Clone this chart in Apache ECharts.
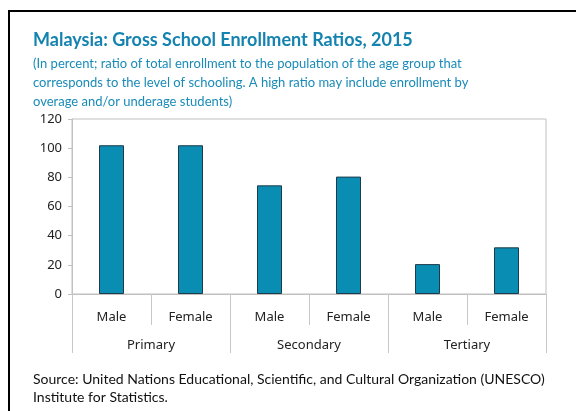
<!DOCTYPE html>
<html><head><meta charset="utf-8">
<script src="https://cdn.jsdelivr.net/npm/echarts@6/dist/echarts.min.js"></script>
<style>html,body{margin:0;padding:0;background:#fff}#c{width:576px;height:411px}</style>
</head><body><div id="c"></div>
<script>
const genders = ['Male','Female','Male','Female','Male','Female'];
const levels = ['Primary','Secondary','Tertiary'];
const values = [102, 102, 74.5, 80.5, 20.5, 32];
const yTicks = {min:0, max:120, interval:20};
const titleText = 'Malaysia: Gross School Enrollment Ratios, 2015';
const subLines = ['(In percent; ratio of total enrollment to the population of the age group that',
 'corresponds to the level of schooling. A high ratio may include enrollment by',
 'overage and/or underage students)'];
const sourceLines = ['Source: United Nations Educational, Scientific, and Cultural Organization (UNESCO)',
 'Institute for Statistics.'];

const FONT = 'Noto Sans';
const TFONT = 'Lato';
const chart = echarts.init(document.getElementById('c'), null, {renderer:'canvas'});
const gfx = [
  {type:'rect', shape:{x:9, y:11, width:600, height:440}, style:{fill:'none', stroke:'#000', lineWidth:2}, silent:true},
  {type:'text', left:33, top:31, style:{text:titleText, font:'bold 18px "'+TFONT+'"', fill:'#1583b0'}}
];
subLines.forEach((t,i)=>gfx.push({type:'text', left:33, top:57+i*19, style:{text:t, font:'13px "'+TFONT+'"', fill:'#1a8bb8'}}));
sourceLines.forEach((t,i)=>gfx.push({type:'text', left:33, top:372+i*18, style:{text:t, font:'14px "'+TFONT+'"', fill:'#111'}}));

chart.setOption({
  animation:false,
  grid:{left:72, top:119, width:474, height:175, show:true, borderColor:'#c0c0c0', borderWidth:1},
  graphic: gfx,
  xAxis:[
    {type:'category', data:genders, position:'bottom', gridIndex:0,
     axisLine:{lineStyle:{color:'#c0c0c0'}},
     axisTick:{show:true, length:31, lineStyle:{color:'#c8c8c8'}},
     axisLabel:{color:'#222', fontFamily:FONT, fontSize:13, margin:17}},
    {type:'category', data:levels, position:'bottom', gridIndex:0,
     axisLine:{show:false},
     axisTick:{show:true, length:59, lineStyle:{color:'#c8c8c8'}},
     axisLabel:{color:'#222', fontFamily:FONT, fontSize:13, margin:45}}
  ],
  yAxis:{type:'value', min:yTicks.min, max:yTicks.max, interval:yTicks.interval,
    splitLine:{show:false},
    axisLine:{show:true, lineStyle:{color:'#c0c0c0'}},
    axisTick:{show:true, length:4, lineStyle:{color:'#c0c0c0'}},
    axisLabel:{color:'#222', fontFamily:FONT, fontSize:13, margin:10}},
  series:[{type:'bar', data:values, xAxisIndex:0, barWidth:25,
    itemStyle:{color:'#0a8db2', borderColor:'#1d3b4a', borderWidth:1}}]
});
</script></body></html>
